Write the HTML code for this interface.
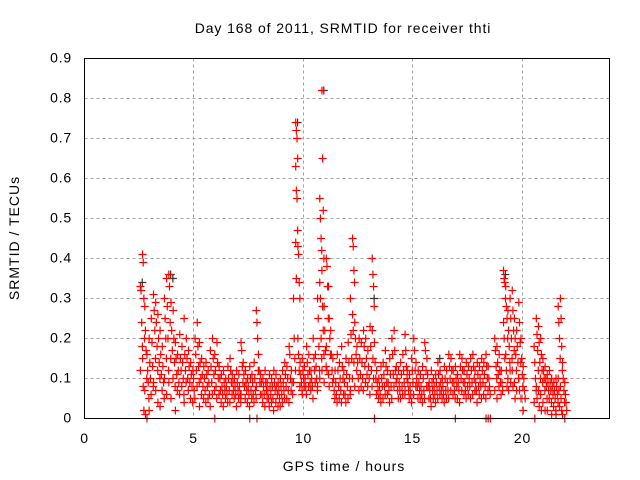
<!DOCTYPE html>
<html><head><meta charset="utf-8"><style>
body{margin:0;background:#fff;}
svg{display:block;font-family:"Liberation Sans",sans-serif;}
</style></head><body>
<svg id="chart" width="640" height="480" viewBox="0 0 640 480" xmlns="http://www.w3.org/2000/svg">
<rect width="640" height="480" fill="#fff"/>
<text x="343" y="33" font-size="14" letter-spacing="0.9" text-anchor="middle" fill="#000">Day 168 of 2011, SRMTID for receiver thti</text>
<text transform="translate(19,238) rotate(-90)" font-size="14" letter-spacing="1" text-anchor="middle" fill="#000">SRMTID / TECUs</text>
<text x="344" y="471" font-size="14" letter-spacing="1" text-anchor="middle" fill="#000">GPS time / hours</text>
<g id="grid"></g>
<g id="ticks"></g>
<g id="marks"></g>
<rect x="84.5" y="58.5" width="525" height="360" fill="none" stroke="#000" stroke-width="1"/>
</svg>
<script>
const xTicks = [0, 5, 10, 15, 20];
const xTickLabels = ["0", "5", "10", "15", "20"];
const yTicks = [0, 0.1, 0.2, 0.3, 0.4, 0.5, 0.6, 0.7, 0.8, 0.9];
const yTickLabels = ["0", "0.1", "0.2", "0.3", "0.4", "0.5", "0.6", "0.7", "0.8", "0.9"];
const hourBins = [2.6,2.7,2.8,2.9,3.0,3.1,3.2,3.3,3.4,3.5,3.6,3.7,3.8,3.9,4.0,4.1,4.2,4.3,4.4,4.5,4.6,4.7,4.8,4.9,5.0,5.1,5.2,5.3,5.4,5.5,5.6,5.7,5.8,5.9,6.0,6.1,6.2,6.3,6.4,6.5,6.6,6.7,6.8,6.9,7.0,7.1,7.2,7.3,7.4,7.5,7.6,7.7,7.8,7.9,8.0,8.1,8.2,8.3,8.4,8.5,8.6,8.7,8.8,8.9,9.0,9.1,9.2,9.3,9.4,9.5,9.6,9.7,9.8,9.9,10.0,10.1,10.2,10.3,10.4,10.5,10.6,10.7,10.8,10.9,11.0,11.1,11.2,11.3,11.4,11.5,11.6,11.7,11.8,11.9,12.0,12.1,12.2,12.3,12.4,12.5,12.6,12.7,12.8,12.9,13.0,13.1,13.2,13.3,13.4,13.5,13.6,13.7,13.8,13.9,14.0,14.1,14.2,14.3,14.4,14.5,14.6,14.7,14.8,14.9,15.0,15.1,15.2,15.3,15.4,15.5,15.6,15.7,15.8,15.9,16.0,16.1,16.2,16.3,16.4,16.5,16.6,16.7,16.8,16.9,17.0,17.1,17.2,17.3,17.4,17.5,17.6,17.7,17.8,17.9,18.0,18.1,18.2,18.3,18.4,18.5,18.6,18.8,18.9,19.0,19.1,19.2,19.3,19.4,19.5,19.6,19.7,19.8,19.9,20.0,20.1,20.6,20.7,20.8,20.9,21.0,21.1,21.2,21.3,21.4,21.5,21.6,21.7,21.8,21.9,22.0];
const binValues = [
[.33,.32,.24,.18,.12],[.41,.39,.3,.2,.15,.08,.02],[.28,.22,.17,.1,.07,.01],[.16,.12,.09,.05,0],[.2,.14,.1,.06,.02],
[.25,.19,.13,.08],[.31,.27,.22,.15,.09],[.29,.24,.18,.12,.07],[.26,.2,.14,.1,.04],[.22,.16,.11,.07,.03],
[.18,.13,.09,.05],[.3,.25,.2,.15,.1],[.35,.28,.2,.12,.06],[.36,.33,.24,.15,.09],[.29,.22,.17,.1,.05],
[.27,.2,.14,.08],[.19,.15,.11,.07,.02],[.16,.12,.09,.06],[.21,.15,.12,.08],[.18,.14,.1,.06],
[.25,.16,.12,.09,.04],[.2,.15,.1,.07],[.17,.13,.09,.05],[.14,.11,.08,.04],[.12,.1,.07,.05],
[.2,.16,.12,.08],[.24,.18,.13,.09],[.19,.14,.1,.06,.03],[.15,.11,.08,.05],[.13,.1,.07,.04],
[.14,.11,.08,.05],[.12,.09,.06,.03],[.17,.13,.09,.06],[.2,.15,.11,.07],[.16,.12,.08,.05,0],
[.19,.14,.1,.06],[.13,.1,.07,.04],[.11,.08,.06,.03],[.12,.09,.07,.05],[.1,.08,.06,.04],
[.13,.1,.07,.04],[.15,.12,.09,.06],[.11,.09,.07,.05],[.1,.08,.06,.03],[.12,.09,.07,.05],
[.11,.08,.06,.04],[.19,.17,.13,.09,.06],[.14,.11,.08,.05],[.12,.09,.07,.04],[.1,.08,.06,.03],
[.13,.1,.07,.05,0],[.11,.09,.06,.04],[.14,.1,.07,.05],[.27,.24,.2,.12,.08,0],[.16,.12,.09,.06],
[.11,.09,.06,.04],[.1,.08,.06,.03],[.12,.09,.07,.05],[.09,.07,.05,.03],[.11,.08,.06,.04],
[.1,.08,.05,.02],[.12,.09,.07,.04],[.11,.08,.06,.03],[.09,.07,.05,.03],[.1,.08,.06,.04],
[.12,.09,.07,.05],[.14,.11,.08,.05],[.13,.1,.07,.04],[.18,.16,.1,.07],[.12,.09,.06],
[.3,.2,.15,.12,.09],[.74,.72,.7,.65,.63,.57,.55,.47,.44,.35],[.43,.41,.34,.3,.2,.16,.12,.08],[.14,.11,.09,.07],[.15,.12,.1,.08,.06],
[.13,.1,.08,.06],[.18,.14,.11,.08],[.16,.12,.09,.07],[.12,.1,.08,.05],[.2,.15,.12,.09],
[.16,.13,.1,.07],[.3,.25,.18,.12,.08],[.55,.5,.45,.42,.34,.3,.2,.15,.1],[.82,.65,.52,.4,.37,.28,.22,.16,.12],[.28,.22,.17,.13,.09],
[.4,.38,.33,.25,.18,.12],[.33,.25,.2,.16,.11,.08],[.22,.16,.12,.09],[.15,.1,.07,.05],[.12,.09,.06,.04],
[.16,.12,.08,.05],[.14,.1,.07,.04],[.18,.13,.1,.06],[.12,.09,.06,.04],[.15,.11,.08,.05],
[.19,.14,.1,.06],[.3,.21,.15,.1,.07],[.45,.43,.37,.34,.26,.22,.14],[.24,.2,.16,.12,.08],[.18,.14,.1,.07],
[.2,.15,.11,.08],[.19,.14,.1,.07],[.22,.18,.13,.09],[.2,.15,.11,.08],[.17,.13,.1,.06],
[.23,.18,.12,.08],[.4,.36,.33,.28,.22,.15,.1],[.19,.14,.1,.06,0],[.12,.09,.07,.05],[.1,.08,.06,.04],
[.13,.1,.08,.05],[.14,.11,.08,.06],[.17,.13,.09,.06],[.12,.09,.07,.04],[.15,.11,.08,.05],
[.2,.16,.11,.08],[.22,.17,.12,.09],[.13,.1,.07,.05],[.12,.09,.07,.05],[.14,.11,.08,.06],
[.16,.12,.09,.06],[.21,.17,.13,.1,.07],[.12,.09,.07,.05],[.11,.08,.06,.04],[.15,.12,.09,.06],
[.2,.17,.12,.08],[.14,.1,.08,.05],[.12,.09,.07,.05],[.11,.08,.06,.04],[.13,.1,.07,.05],
[.19,.17,.12,.08],[.15,.11,.08,.05],[.09,.07,.05,.03],[.12,.09,.07,.05],[.1,.08,.06,.04],
[.11,.09,.07,.05],[.14,.11,.08,.06],[.12,.09,.07,.05],[.1,.08,.06,.04],[.13,.1,.07,.05],
[.12,.09,.07,.05],[.16,.13,.1,.07],[.15,.12,.09,.06],[.12,.09,.07,.05],[.13,.1,.08,.05,0],
[.11,.09,.07,.04],[.16,.13,.1,.07],[.15,.12,.09,.06],[.12,.09,.07,.05],[.14,.11,.08,.06],
[.13,.1,.08,.05],[.15,.12,.09,.06],[.16,.13,.1,.07],[.12,.09,.07,.04],[.14,.11,.08,.06],
[.13,.1,.08,.05],[.15,.12,.09,.06],[.14,.11,.08,.05],[.16,.13,.1,.07,0],[.13,.1,.08,.06,0],
[0],[.2,.17,.13,.1,.07],[.18,.14,.11,.08,.05],[.16,.12,.09,.06],[.12,.09,.07],
[.37,.35,.34,.3,.24,.2,.15],[.33,.28,.25,.2,.16,.12,.08],[.27,.22,.18,.14,.1,.07],[.3,.25,.2,.15,.12,.09],[.32,.27,.22,.17,.12,.08],
[.25,.2,.16,.12,.09,.05],[.22,.18,.14,.1,.07],[.29,.24,.19,.14,.1,.07],[.2,.15,.11,.08,.05],[.13,.1,.07,.05,.02],
[.18,.14,.1,.07,.04,0],[.25,.21,.17,.12,.08,.05],[.23,.19,.14,.1,.07,.03],[.2,.16,.12,.09,.06,.02],[.15,.12,.1,.07,.04],
[.13,.1,.08,.05,.02],[.11,.09,.07,.05,.02],[.12,.09,.07,.04],[.1,.08,.06,.03,.01],[.09,.07,.05,.02],
[.1,.08,.06,.04,.01],[.28,.24,.2,.15,.1,.07,.03],[.3,.25,.18,.12,.08,.05,.02],[.14,.1,.07,.04,.01],[.09,.06,.04,.02,0]
];
const blackHours = [2.6, 3.9, 4.0, 9.7, 10.9, 13.2, 19.2, 16.2];
const blackValues = [.34, .36, .35, .74, .82, .3, .36, .15];

const X0 = 84.5, PXH = 21.875, Y0 = 418.5, PXV = 400;
function xs(h){ return X0 + h * PXH; }
function ys(v){ return Y0 - v * PXV; }
const NS = "http://www.w3.org/2000/svg";
const grid = document.getElementById('grid');
const ticks = document.getElementById('ticks');
const marks = document.getElementById('marks');

yTicks.forEach((v, i) => {
  const y = Math.round(ys(v) - 0.5) + 0.5;
  if (i > 0 && i < yTicks.length - 1) {
    const g = document.createElementNS(NS, 'line');
    
    
    g.setAttribute('x1', X0); g.setAttribute('x2', X0 + 525);
    g.setAttribute('y1', y); g.setAttribute('y2', y);
    g.setAttribute('stroke', '#a0a0a0'); g.setAttribute('stroke-dasharray', '3,3');
    grid.appendChild(g);
  }
  const t = document.createElementNS(NS, 'text');
  
  
  t.setAttribute('x', 72); t.setAttribute('y', y + 4);
  t.setAttribute('font-size', '14'); t.setAttribute('letter-spacing', '0.8'); t.setAttribute('text-anchor', 'end');
  t.textContent = yTickLabels[i];
  ticks.appendChild(t);
});
xTicks.forEach((h, i) => {
  const x = Math.round(xs(h) - 0.5) + 0.5;
  if (i > 0) {
    const g = document.createElementNS(NS, 'line');
    
    
    g.setAttribute('x1', x); g.setAttribute('x2', x);
    g.setAttribute('y1', 58.5); g.setAttribute('y2', Y0);
    g.setAttribute('stroke', '#a0a0a0'); g.setAttribute('stroke-dasharray', '3,3');
    grid.appendChild(g);
  }
  const t = document.createElementNS(NS, 'text');
  
  
  t.setAttribute('x', x); t.setAttribute('y', 443);
  t.setAttribute('font-size', '14'); t.setAttribute('letter-spacing', '0.8'); t.setAttribute('text-anchor', 'middle');
  t.textContent = xTickLabels[i];
  ticks.appendChild(t);
});

function plus(h, v, color, name){
  const x = xs(h), y = ys(v);
  const p = document.createElementNS(NS, 'path');
  
  
  p.setAttribute('d', 'M' + (x - 4) + ' ' + y + 'H' + (x + 4) + 'M' + x + ' ' + (y - 4) + 'V' + (y + 4));
  p.setAttribute('stroke', color); p.setAttribute('stroke-width', '1.2'); p.setAttribute('fill', 'none');
  marks.appendChild(p);
}
blackHours.forEach((h, i) => {
  plus(h + 0.04, blackValues[i], '#333', 'srmtid-point-secondary');
});
hourBins.forEach((h, b) => {
  binValues[b].forEach((v, i) => {
    plus(h + ((i % 4) - 1.5) * 0.03, v, '#ff0000', 'srmtid-point');
  });
});
</script>
</body></html>
